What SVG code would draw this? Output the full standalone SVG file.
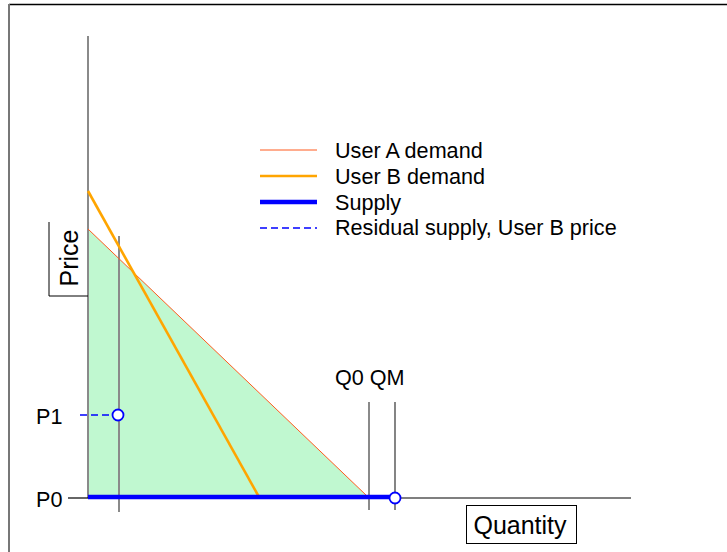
<svg xmlns="http://www.w3.org/2000/svg" width="727" height="552" viewBox="0 0 727 552">
<style>
text{font-family:"Liberation Sans",Arial,sans-serif;fill:#000}
.lg{font-size:21.6px}
.ax{font-size:25px}
.gray{stroke:#8a8a8a;stroke-width:2;fill:none}
.dark{stroke:#333;stroke-width:1.2;fill:none}
.ua{stroke:#ff5a1e;stroke-width:1;fill:none}
.ub{stroke:#ffa500;stroke-width:2.6;fill:none}
.sup{stroke:#0000ff;stroke-width:4.5;fill:none}
.res{stroke:#0000ff;stroke-width:1.4;stroke-dasharray:7,4;fill:none}
.pt{fill:#fff;stroke:#0000ff;stroke-width:1.8}
</style>
<rect width="727" height="552" fill="#fff"/>
<g id="frame">
<line x1="9" y1="4.5" x2="727" y2="4.5" stroke="#000" stroke-width="1.5"/>
<line x1="9" y1="4" x2="9" y2="552" stroke="#777" stroke-width="2"/>
</g>
<g id="area">
<polygon points="88,229 368,497 88,497" fill="#c0f8d0"/>
</g>
<g id="connectors">
<line class="gray" x1="88" y1="36" x2="88" y2="498"/>
<line x1="88" y1="498" x2="631" y2="498" stroke="#000" stroke-width="1.2"/>
<line x1="68" y1="498" x2="88" y2="498" stroke="#000" stroke-width="1.2"/>
<line class="gray" x1="119" y1="236" x2="119" y2="512"/>
<line class="gray" x1="369" y1="402" x2="369" y2="510"/>
<line class="dark" x1="395" y1="402" x2="395" y2="510"/>
<line class="ua" x1="88" y1="229" x2="367" y2="496"/>
<line class="ub" x1="88" y1="191" x2="259" y2="497"/>
<line class="sup" x1="88" y1="497" x2="395" y2="497"/>
<line class="res" x1="80" y1="415" x2="113" y2="415"/>
</g>
<g id="points">
<circle class="pt" cx="118" cy="415" r="5.5"/>
<circle class="pt" cx="395" cy="498" r="5.5"/>
</g>
<g id="labels">
<text class="lg" x="36" y="424">P1</text>
<text class="lg" x="36" y="507">P0</text>
<text class="lg" x="335" y="385">Q0 QM</text>
</g>
<g id="price-label">
<polyline points="49,222 49,296 88,296" fill="none" stroke="#000" stroke-width="1"/>
<text class="ax" transform="translate(78,258) rotate(-90)" text-anchor="middle">Price</text>
</g>
<g id="quantity-label">
<rect x="466.5" y="505.5" width="110" height="38" fill="#fff" stroke="#000" stroke-width="1"/>
<text class="ax" x="520" y="534" text-anchor="middle">Quantity</text>
</g>
<g id="legend">
<line class="ua" x1="260" y1="150" x2="317" y2="150"/>
<line class="ub" x1="260" y1="176" x2="317" y2="176"/>
<line class="sup" x1="260" y1="202" x2="317" y2="202"/>
<line class="res" x1="260" y1="228" x2="317" y2="228"/>
<text class="lg" x="335" y="158">User A demand</text>
<text class="lg" x="335" y="184">User B demand</text>
<text class="lg" x="335" y="210">Supply</text>
<text class="lg" x="335" y="235">Residual supply, User B price</text>
</g>
</svg>
